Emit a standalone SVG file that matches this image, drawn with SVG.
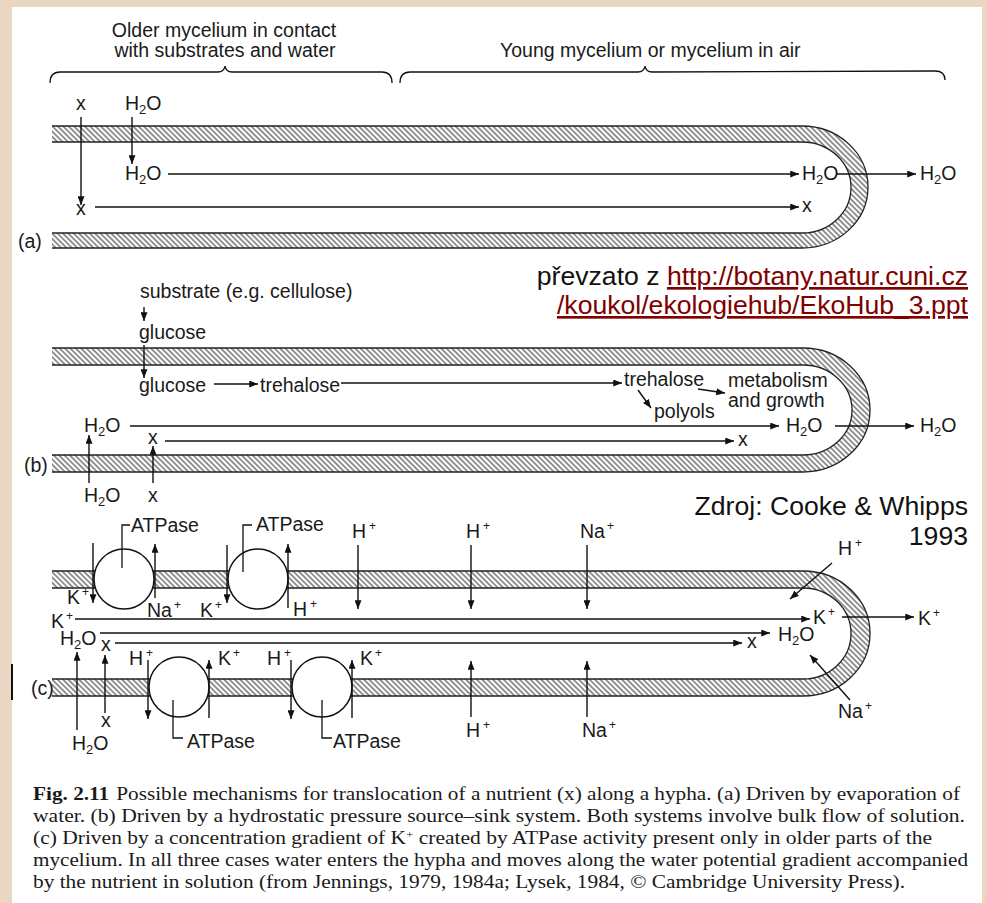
<svg xmlns="http://www.w3.org/2000/svg" width="986" height="903" viewBox="0 0 986 903">
<defs>
<style>
.t{font-family:"Liberation Sans",Arial,Helvetica,sans-serif;font-size:19.5px;fill:#1a1a1a}
.sup{font-size:12px}
.sub{font-size:13px}
.big{font-family:"Liberation Sans",Arial,sans-serif;font-size:26.6px;fill:#111}
.link{fill:#800000;text-decoration:underline}
.cap{font-family:"Liberation Serif","Times New Roman",serif;font-size:18px;fill:#1a1a1a}
.c{stroke:#111;stroke-width:1.4;fill:none;marker-end:url(#ah)}
.ln{stroke:#111;stroke-width:1.3;fill:none}
.wall{fill:url(#hatch);stroke:none}
.edge{fill:none;stroke:#222;stroke-width:1.3}
.pump{fill:#fff;stroke:#111;stroke-width:1.5}
</style>
<pattern id="hatch" patternUnits="userSpaceOnUse" width="3.8" height="10" patternTransform="rotate(-45)">
<line x1="1" y1="0" x2="1" y2="10" stroke="#2a2a2a" stroke-width="1"/>
</pattern>
<marker id="ah" viewBox="0 0 10 8" refX="10" refY="4" markerWidth="9" markerHeight="7" markerUnits="userSpaceOnUse" orient="auto">
<path d="M0,0 L10,4 L0,8 z" fill="#111"/>
</marker>
</defs>

<rect x="0" y="0" width="986" height="903" fill="#EAD7C3"/>
<rect x="12" y="7" width="970" height="896" fill="#ffffff"/>
<rect x="11" y="664" width="2" height="36" fill="#111"/>

<!-- Panel (a) -->
<g id="panel-a">
<g id="brace-old">
<path class="ln" d="M50,83 Q50,72 60,72 L218,72 Q224,72 225,66 Q226,72 232,72 L382,72 Q392,72 392,83"/>
<text class="t" x="224" y="37" text-anchor="middle">Older mycelium in contact</text>
<text class="t" x="225" y="57" text-anchor="middle">with substrates and water</text>
</g>
<g id="brace-young">
<path class="ln" d="M400,83 Q400,72 410,72 L638,72 Q644,72 645,66 Q646,72 652,72 L935,71 Q945,71 945,80"/>
<text class="t" x="500" y="57">Young mycelium or mycelium in air</text>
</g>
<g id="tube-a">
<path class="wall" d="M52,126 H802 A66,61 0 0 1 802,248 H52 V233 H802 A49,45.5 0 0 0 802,142 H52 Z"/>
<path class="edge" d="M52,126 H802 A66,61 0 0 1 802,248 H52"/>
<path class="edge" d="M52,142 H802 A49,45.5 0 0 1 802,233 H52"/>
</g>
<g id="a-labels">
<text class="t" x="76" y="110">x</text>
<text class="t" x="125" y="110">H<tspan class="sub" dy="4">2</tspan><tspan dy="-4">O</tspan></text>
<text class="t" x="125" y="180">H<tspan class="sub" dy="4">2</tspan><tspan dy="-4">O</tspan></text>
<text class="t" x="76" y="215">x</text>
<text class="t" x="802" y="180">H<tspan class="sub" dy="4">2</tspan><tspan dy="-4">O</tspan></text>
<text class="t" x="920" y="180">H<tspan class="sub" dy="4">2</tspan><tspan dy="-4">O</tspan></text>
<text class="t" x="802" y="212">x</text>
<text class="t" x="18" y="248">(a)</text>
</g>
</g>

<!-- Panel (b) -->
<g id="panel-b">
<g id="tube-b">
<path class="wall" d="M52,348 H803 A67,62 0 0 1 803,472 H52 V455 H803 A49,45 0 0 0 803,365 H52 Z"/>
<path class="edge" d="M52,348 H803 A67,62 0 0 1 803,472 H52"/>
<path class="edge" d="M52,365 H803 A49,45 0 0 1 803,455 H52"/>
</g>
<g id="b-labels">
<text class="t" x="140" y="298">substrate (e.g. cellulose)</text>
<text class="t" x="139" y="339">glucose</text>
<text class="t" x="139" y="392">glucose</text>
<text class="t" x="260" y="392">trehalose</text>
<text class="t" x="624" y="386">trehalose</text>
<text class="t" x="654" y="418">polyols</text>
<text class="t" x="728" y="387">metabolism</text>
<text class="t" x="728" y="407">and growth</text>
<text class="t" x="84" y="432">H<tspan class="sub" dy="4">2</tspan><tspan dy="-4">O</tspan></text>
<text class="t" x="148" y="444">x</text>
<text class="t" x="786" y="432">H<tspan class="sub" dy="4">2</tspan><tspan dy="-4">O</tspan></text>
<text class="t" x="920" y="432">H<tspan class="sub" dy="4">2</tspan><tspan dy="-4">O</tspan></text>
<text class="t" x="738" y="446">x</text>
<text class="t" x="84" y="502">H<tspan class="sub" dy="4">2</tspan><tspan dy="-4">O</tspan></text>
<text class="t" x="148" y="502">x</text>
<text class="t" x="24" y="472">(b)</text>
</g>
</g>

<!-- Panel (c) -->
<g id="panel-c">
<g id="tube-c">
<path class="wall" d="M52,571 H803 A67,62.5 0 0 1 803,696 H52 V679 H803 A48,45.5 0 0 0 803,588 H52 Z"/>
<path class="edge" d="M52,571 H803 A67,62.5 0 0 1 803,696 H52"/>
<path class="edge" d="M52,588 H803 A48,45.5 0 0 1 803,679 H52"/>
</g>
<g id="atpase-1"><circle class="pump" cx="124" cy="579" r="30"/><path class="ln" d="M130,525 H122 V568"/><text class="t" x="131" y="532">ATPase</text></g>
<g id="atpase-2"><circle class="pump" cx="258" cy="579" r="30"/><path class="ln" d="M252,525 H243 V572"/><text class="t" x="256" y="531">ATPase</text></g>
<g id="atpase-3"><circle class="pump" cx="179" cy="687" r="30"/><path class="ln" d="M173,700 V738 H183"/><text class="t" x="187" y="748">ATPase</text></g>
<g id="atpase-4"><circle class="pump" cx="322" cy="687" r="30"/><path class="ln" d="M322,700 V738 H332"/><text class="t" x="333" y="748">ATPase</text></g>
<g id="c-labels">
<text class="t" x="67" y="604">K<tspan class="sup" dx="2" dy="-8">+</tspan></text>
<text class="t" x="147" y="617">Na<tspan class="sup" dx="2" dy="-8">+</tspan></text>
<text class="t" x="200" y="617">K<tspan class="sup" dx="2" dy="-8">+</tspan></text>
<text class="t" x="293" y="616">H<tspan class="sup" dx="3" dy="-8">+</tspan></text>
<text class="t" x="352" y="538">H<tspan class="sup" dx="3" dy="-8">+</tspan></text>
<text class="t" x="466" y="538">H<tspan class="sup" dx="3" dy="-8">+</tspan></text>
<text class="t" x="580" y="538">Na<tspan class="sup" dx="2" dy="-8">+</tspan></text>
<text class="t" x="51" y="628">K<tspan class="sup" dx="2" dy="-8">+</tspan></text>
<text class="t" x="60" y="645">H<tspan class="sub" dy="4">2</tspan><tspan dy="-4">O</tspan></text>
<text class="t" x="101" y="651">x</text>
<text class="t" x="813" y="624">K<tspan class="sup" dx="2" dy="-8">+</tspan></text>
<text class="t" x="918" y="625">K<tspan class="sup" dx="2" dy="-8">+</tspan></text>
<text class="t" x="778" y="641">H<tspan class="sub" dy="4">2</tspan><tspan dy="-4">O</tspan></text>
<text class="t" x="747" y="648">x</text>
<text class="t" x="129" y="665">H<tspan class="sup" dx="3" dy="-8">+</tspan></text>
<text class="t" x="218" y="665">K<tspan class="sup" dx="2" dy="-8">+</tspan></text>
<text class="t" x="267" y="665">H<tspan class="sup" dx="3" dy="-8">+</tspan></text>
<text class="t" x="360" y="665">K<tspan class="sup" dx="2" dy="-8">+</tspan></text>
<text class="t" x="101" y="727">x</text>
<text class="t" x="72" y="750">H<tspan class="sub" dy="4">2</tspan><tspan dy="-4">O</tspan></text>
<text class="t" x="466" y="737">H<tspan class="sup" dx="3" dy="-8">+</tspan></text>
<text class="t" x="582" y="737">Na<tspan class="sup" dx="2" dy="-8">+</tspan></text>
<text class="t" x="838" y="555">H<tspan class="sup" dx="3" dy="-8">+</tspan></text>
<text class="t" x="838" y="718">Na<tspan class="sup" dx="2" dy="-8">+</tspan></text>
<text class="t" x="31" y="695">(c)</text>
</g>
</g>

<!-- Connectors -->
<g id="connectors">
<line class="c" x1="81" y1="117" x2="81" y2="205"/>
<line class="c" x1="132" y1="117" x2="132" y2="164"/>
<line class="c" x1="168" y1="174" x2="799" y2="174"/>
<line class="c" x1="836" y1="174" x2="916" y2="174"/>
<line class="c" x1="95" y1="207" x2="799" y2="207"/>
<line class="c" x1="144" y1="307" x2="144" y2="321"/>
<line class="c" x1="144" y1="345" x2="144" y2="378"/>
<line class="c" x1="214" y1="384" x2="258" y2="384"/>
<line class="c" x1="341" y1="383" x2="622" y2="383"/>
<line class="c" x1="638" y1="390" x2="651" y2="408"/>
<line class="c" x1="698" y1="389" x2="725" y2="393"/>
<line class="c" x1="130" y1="426" x2="779" y2="426"/>
<line class="c" x1="835" y1="426" x2="914" y2="426"/>
<line class="c" x1="165" y1="441" x2="734" y2="441"/>
<line class="c" x1="89" y1="483" x2="89" y2="435"/>
<line class="c" x1="153" y1="483" x2="153" y2="446"/>
<line class="c" x1="93" y1="543" x2="93" y2="603"/>
<line class="c" x1="155" y1="598" x2="155" y2="544"/>
<line class="c" x1="227" y1="545" x2="227" y2="603"/>
<line class="c" x1="288" y1="608" x2="288" y2="544"/>
<line class="c" x1="358" y1="545" x2="358" y2="609"/>
<line class="c" x1="471" y1="545" x2="471" y2="609"/>
<line class="c" x1="587" y1="545" x2="587" y2="609"/>
<line class="c" x1="75" y1="619" x2="810" y2="619"/>
<line class="c" x1="842" y1="617" x2="914" y2="617"/>
<line class="c" x1="100" y1="633" x2="770" y2="633"/>
<line class="c" x1="115" y1="643" x2="742" y2="643"/>
<line class="c" x1="77" y1="730" x2="77" y2="652"/>
<line class="c" x1="105" y1="713" x2="105" y2="655"/>
<line class="c" x1="148" y1="660" x2="148" y2="719"/>
<line class="c" x1="209" y1="718" x2="209" y2="660"/>
<line class="c" x1="291" y1="660" x2="291" y2="719"/>
<line class="c" x1="352" y1="718" x2="352" y2="660"/>
<line class="c" x1="471" y1="717" x2="471" y2="661"/>
<line class="c" x1="587" y1="717" x2="587" y2="661"/>
<line class="c" x1="832" y1="563" x2="790" y2="599"/>
<line class="c" x1="850" y1="700" x2="810" y2="655"/>
</g>

<!-- Source notes -->
<g id="source-link">
<text class="big" x="968" y="285" text-anchor="end">převzato z <tspan class="link">http://botany.natur.cuni.cz</tspan></text>
<text class="big link" x="968" y="314" text-anchor="end">/koukol/ekologiehub/EkoHub_3.ppt</text>
</g>
<g id="source-ref">
<text class="big" x="968" y="515" text-anchor="end">Zdroj: Cooke &amp; Whipps</text>
<text class="big" x="968" y="545" text-anchor="end">1993</text>
</g>

<!-- Caption -->
<g id="caption">
<text class="cap" x="33" y="800" textLength="927" lengthAdjust="spacingAndGlyphs"><tspan font-weight="bold">Fig. 2.11</tspan><tspan dx="6">Possible mechanisms for translocation of a nutrient (x) along a hypha. (a) Driven by evaporation of</tspan></text>
<text class="cap" x="33" y="822" textLength="932" lengthAdjust="spacingAndGlyphs">water. (b) Driven by a hydrostatic pressure source–sink system. Both systems involve bulk flow of solution.</text>
<text class="cap" x="33" y="844" textLength="899" lengthAdjust="spacingAndGlyphs">(c) Driven by a concentration gradient of K<tspan font-size="11" dy="-6">+</tspan><tspan dy="6"> created by ATPase activity present only in older parts of the</tspan></text>
<text class="cap" x="33" y="866" textLength="935" lengthAdjust="spacingAndGlyphs">mycelium. In all three cases water enters the hypha and moves along the water potential gradient accompanied</text>
<text class="cap" x="33" y="888" textLength="872" lengthAdjust="spacingAndGlyphs">by the nutrient in solution (from Jennings, 1979, 1984a; Lysek, 1984, © Cambridge University Press).</text>
</g>
</svg>
